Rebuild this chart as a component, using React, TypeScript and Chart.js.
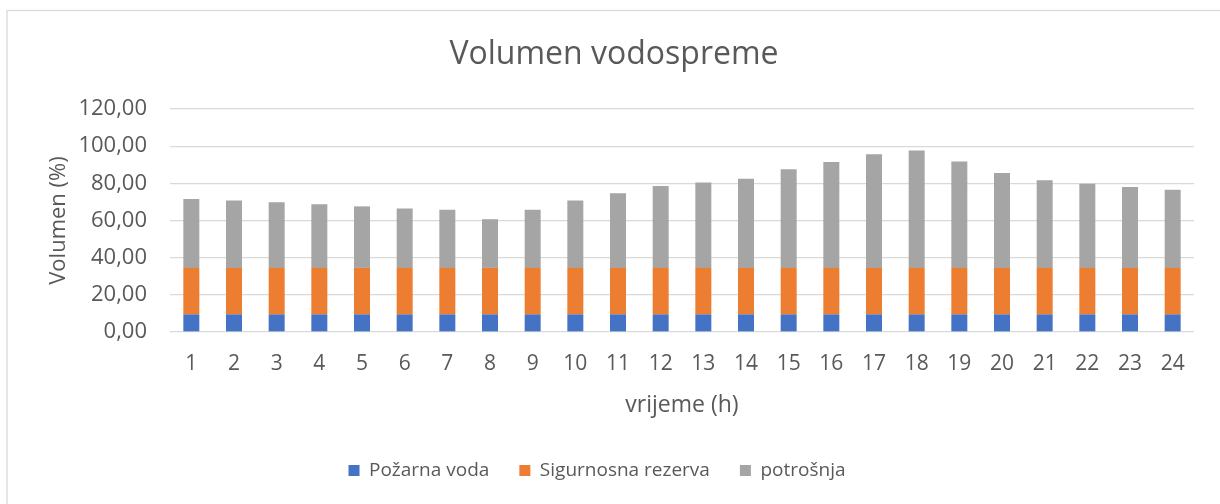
import React, { useEffect, useRef } from 'react';
import { Chart, registerables } from 'chart.js';

Chart.register(...registerables);

const hours = ['1', '2', '3', '4', '5', '6', '7', '8', '9', '10', '11', '12', '13', '14', '15', '16', '17', '18', '19', '20', '21', '22', '23', '24'];
const pozarnaVoda = [9.5, 9.5, 9.5, 9.5, 9.5, 9.5, 9.5, 9.5, 9.5, 9.5, 9.5, 9.5, 9.5, 9.5, 9.5, 9.5, 9.5, 9.5, 9.5, 9.5, 9.5, 9.5, 9.5, 9.5];
const sigurnosnaRezerva = [25, 25, 25, 25, 25, 25, 25, 25, 25, 25, 25, 25, 25, 25, 25, 25, 25, 25, 25, 25, 25, 25, 25, 25];
const potrosnja = [37.1, 36.3, 35.3, 34.2, 33.1, 32.0, 31.3, 26.2, 31.3, 36.3, 40.1, 44.0, 46.0, 48.0, 53.1, 57.0, 61.2, 63.2, 57.2, 51.1, 47.1, 45.3, 43.5, 42.1];
const yTicks = { min: 0, max: 120, step: 20 };

const FONT = 'Open Sans';
const TEXT = '#595959';

const frame = {
  id: 'frame',
  afterLayout(chart: any) {
    const t = chart.titleBlock;
    if (t) {
      t.left += 17;
      t.right += 17;
    }
  },
  beforeDraw(chart: any) {
    const ctx = chart.ctx;
    ctx.save();
    ctx.fillStyle = '#ffffff';
    ctx.fillRect(0, 0, chart.width, chart.height);
    ctx.strokeStyle = '#d9d9d9';
    ctx.lineWidth = 1.3;
    ctx.strokeRect(7, 10.5, 1400, 700);
    ctx.restore();
  },
};

export default function App() {
  const ref = useRef<HTMLCanvasElement | null>(null);
  useEffect(() => {
    document.body.style.margin = '0';
    const canvas = ref.current;
    if (!canvas) return;
    const chart = new Chart(canvas, {
      type: 'bar',
      data: {
        labels: hours,
        datasets: [
          { label: 'Požarna voda', data: pozarnaVoda, backgroundColor: '#4472C4' },
          { label: 'Sigurnosna rezerva', data: sigurnosnaRezerva, backgroundColor: '#ED7D31' },
          { label: 'potrošnja', data: potrosnja, backgroundColor: '#A5A5A5' },
        ],
      },
      options: {
        responsive: false,
        animation: false,
        maintainAspectRatio: false,
        layout: { padding: { left: 0, right: 26, top: 0, bottom: 14 } },
        datasets: { bar: { barPercentage: 0.375, categoryPercentage: 1 } },
        plugins: {
          title: {
            display: true,
            text: 'Volumen vodospreme',
            color: TEXT,
            font: { family: FONT, size: 32, weight: 'normal' },
            padding: { top: 36, bottom: 34.6 },
          },
          legend: {
            position: 'bottom',
            labels: {
              color: TEXT,
              font: { family: FONT, size: 19 },
              boxWidth: 11,
              boxHeight: 11,
              padding: 30,
            },
          },
          tooltip: { enabled: false },
        },
        scales: {
          x: {
            stacked: true,
            grid: { display: false, drawTicks: false },
            border: { display: false },
            ticks: { color: TEXT, font: { family: FONT, size: 21 }, padding: 19, maxRotation: 0 },
            title: {
              display: true,
              text: 'vrijeme (h)',
              color: TEXT,
              font: { family: FONT, size: 23 },
              padding: { top: 0, bottom: 12 },
            },
            afterFit(scale: any) {
              scale.height = 99;
            },
          },
          y: {
            stacked: true,
            min: yTicks.min,
            max: yTicks.max,
            grid: { color: '#d9d9d9', lineWidth: 1.3, drawTicks: false },
            border: { display: false },
            ticks: {
              stepSize: yTicks.step,
              color: TEXT,
              font: { family: FONT, size: 22 },
              padding: 23,
              callback: (v: any) => Number(v).toFixed(2).replace('.', ','),
            },
            title: {
              display: true,
              text: 'Volumen (%)',
              color: TEXT,
              font: { family: FONT, size: 22 },
              padding: { top: 46, bottom: 0 },
            },
            afterFit(scale: any) {
              scale.width = 170;
            },
          },
        },
      },
      plugins: [frame],
    });
    return () => chart.destroy();
  }, []);
  return (
    <div style={{ width: 1220, height: 504 }}>
      <canvas ref={ref} width={1220} height={504} style={{ display: 'block' }} />
    </div>
  );
}
